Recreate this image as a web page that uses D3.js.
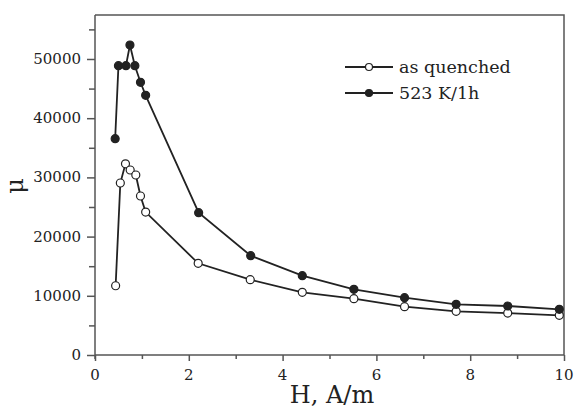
<!DOCTYPE html>
<html>
<head>
<meta charset="utf-8">
<script src="https://cdn.jsdelivr.net/npm/d3@7"></script>
<style>
  body { margin: 0; background: #fff; }
  text { font-family: "DejaVu Serif", serif; fill: #222; }
</style>
</head>
<body>
<svg id="chart"></svg>
<script>
var w = 575,
    h = 410;

// field H (A/m)
var hQuenched = [0.44, 0.54, 0.65, 0.75, 0.87, 0.97, 1.08, 2.2, 3.31, 4.42, 5.52, 6.6, 7.7, 8.8, 9.9];
var muQuenched = [11700, 29050, 32300, 31250, 30400, 26860, 24150, 15490, 12720, 10590, 9510, 8160, 7380, 7090, 6700];

var hAnnealed = [0.43, 0.5, 0.66, 0.745, 0.85, 0.97, 1.08, 2.21, 3.32, 4.42, 5.52, 6.6, 7.7, 8.8, 9.9];
var muAnnealed = [36540, 48870, 48870, 52360, 48870, 46060, 43870, 24040, 16770, 13400, 11100, 9680, 8560, 8280, 7720];

var seriesNames = ["as quenched", "523 K/1h"];
var xTicks = [0, 2, 4, 6, 8, 10];
var yTicks = [0, 10000, 20000, 30000, 40000, 50000];

var pLeft = 95, pRight = 564, pTop = 15, pBottom = 355;
var axisColor = "#555";

var x = d3.scaleLinear().domain([0, 10]).range([pLeft, pRight]);
var y = d3.scaleLinear().domain([0, 57430]).range([pBottom, pTop]);

var svg = d3.select("#chart").attr("width", w).attr("height", h);

// frame (top and right lines)
svg.append("path")
  .attr("d", "M" + pLeft + "," + pTop + "H" + pRight + "V" + pBottom)
  .attr("fill", "none")
  .attr("stroke", axisColor)
  .attr("stroke-width", 1.5);

// x axis
var xAxis = svg.append("g").attr("transform", "translate(0," + pBottom + ")");
xAxis.call(d3.axisBottom(x).tickValues(d3.range(0, 11, 1)).tickSize(4).tickFormat(""));
xAxis.selectAll(".tick line").filter(function(d) { return d % 2 === 0; }).attr("y2", 6);
xAxis.selectAll("path, line").attr("stroke", axisColor).attr("stroke-width", 1.5);
xAxis.select(".domain").attr("d", "M" + pLeft + ",0H" + pRight);
xAxis.selectAll(".lbl").data(xTicks).enter().append("text")
  .attr("x", function(d) { return x(d); })
  .attr("y", 25)
  .attr("text-anchor", "middle")
  .style("font-size", "15px")
  .text(function(d) { return d; });

// y axis
var yAxis = svg.append("g").attr("transform", "translate(" + pLeft + ",0)");
yAxis.call(d3.axisLeft(y).tickValues(d3.range(0, 57000, 5000)).tickSize(6).tickFormat(""));
yAxis.selectAll(".tick line").filter(function(d) { return d % 10000 === 0; }).attr("x2", -8);
yAxis.selectAll("path, line").attr("stroke", axisColor).attr("stroke-width", 1.5);
yAxis.select(".domain").attr("d", "M0," + (pBottom + 4) + "V" + pTop);
yAxis.selectAll(".lbl").data(yTicks).enter().append("text")
  .attr("x", -14)
  .attr("y", function(d) { return y(d) + 5; })
  .attr("text-anchor", "end")
  .style("font-size", "15px")
  .text(function(d) { return d; });

// axis titles
svg.append("text")
  .attr("x", 332).attr("y", 403)
  .attr("text-anchor", "middle")
  .style("font-size", "24px")
  .text("H, A/m");

svg.append("text")
  .attr("transform", "translate(23,186)rotate(-90)")
  .attr("text-anchor", "middle")
  .style("font-size", "24px")
  .text("μ");

var line = d3.line()
  .x(function(d) { return x(d[0]); })
  .y(function(d) { return y(d[1]); });

var series = [
  { name: seriesNames[0], pts: d3.zip(hQuenched, muQuenched), fill: "#fff" },
  { name: seriesNames[1], pts: d3.zip(hAnnealed, muAnnealed), fill: "#222" }
];

series.forEach(function(s) {
  svg.append("path")
    .attr("d", line(s.pts))
    .attr("fill", "none")
    .attr("stroke", "#222")
    .attr("stroke-width", 1.8);
  svg.selectAll(null).data(s.pts).enter().append("circle")
    .attr("cx", function(d) { return x(d[0]); })
    .attr("cy", function(d) { return y(d[1]); })
    .attr("r", 4)
    .attr("fill", s.fill)
    .attr("stroke", "#222")
    .attr("stroke-width", 1.2);
});

// legend
var legend = svg.append("g");
series.forEach(function(s, i) {
  var ly = 67 + i * 26;
  legend.append("line")
    .attr("x1", 345).attr("x2", 393)
    .attr("y1", ly).attr("y2", ly)
    .attr("stroke", "#222").attr("stroke-width", 1.8);
  legend.append("circle")
    .attr("cx", 369).attr("cy", ly).attr("r", 3.5)
    .attr("fill", s.fill).attr("stroke", "#222").attr("stroke-width", 1.2);
  legend.append("text")
    .attr("x", 399).attr("y", ly + 6)
    .style("font-size", "17.5px")
    .text(s.name);
});
</script>
</body>
</html>
